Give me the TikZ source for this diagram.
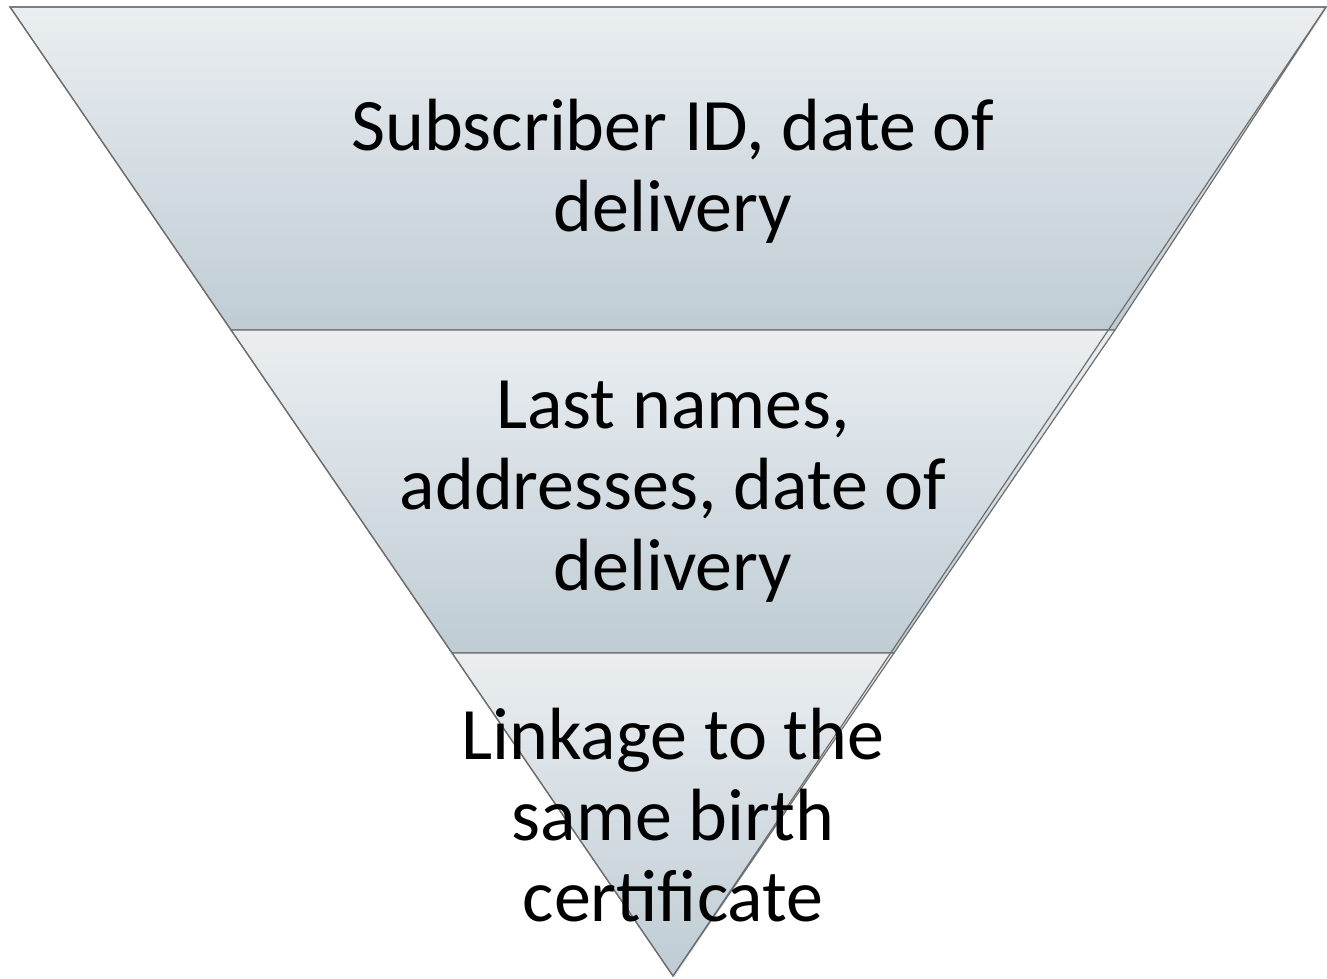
\documentclass[tikz,border=0pt]{standalone}
\usepackage{fontspec}
\setmainfont{Carlito}
\begin{document}
\begin{tikzpicture}[x=1pt,y=-1pt,
  band/.style={top color=bandtop,bottom color=bandbot,draw=edge,line width=1.2pt,line join=miter},
  lbl/.style={align=center,text=black,font=\fontsize{74}{81}\selectfont,inner sep=0pt}]
\definecolor{bandtop}{HTML}{EAEEF1}
\definecolor{bandbot}{HTML}{BFCCD4}
\definecolor{edge}{HTML}{6E6E6E}
\useasboundingbox (0,0) rectangle (1327,978);
% corner coordinates
\coordinate (tl) at (10,7);
\coordinate (tr) at (1326,7);
\coordinate (ml1) at (231,330);
\coordinate (mr1) at (1115,330);
\coordinate (ml2) at (452,653);
\coordinate (mr2) at (894,653);
\coordinate (apex) at (673,976);
% soft shadow
\fill[black!8] ([shift={(1.5,1.5)}]tl) -- ([shift={(1.5,1.5)}]tr) -- ([shift={(1.5,1.5)}]apex) -- cycle;
% bands
\shade[band] (tl) -- (tr) -- (mr1) -- (ml1) -- cycle;
\shade[band] (ml1) -- (mr1) -- (mr2) -- (ml2) -- cycle;
\shade[band] (ml2) -- (mr2) -- (apex) -- cycle;
\draw[edge,line width=1.2pt,line join=miter] (tl) -- (tr) -- (apex) -- cycle;
% labels
\node[lbl] (t1) at (673,171) {Subscriber ID, date of\\delivery};
\node[lbl] (t2) at (673,492) {Last names,\\addresses, date of\\delivery};
\node[lbl] (t3) at (673,815) {Linkage to the\\same birth\\certificate};
\end{tikzpicture}
\end{document}
